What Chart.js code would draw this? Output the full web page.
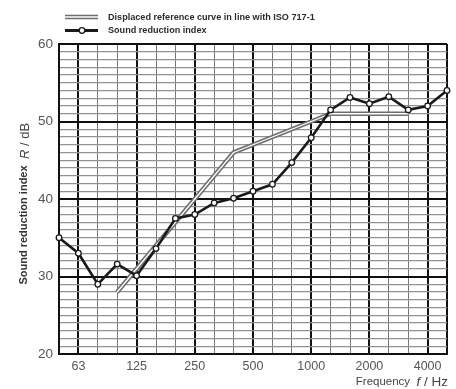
<!DOCTYPE html>
<html>
<head>
<meta charset="utf-8">
<script src="https://cdn.jsdelivr.net/npm/chart.js@4.4.1/dist/chart.umd.min.js"></script>
<style>
html,body{margin:0;padding:0;background:#fff;}
#wrap{position:relative;width:456px;height:389px;}
</style>
</head>
<body>
<div id="wrap"><canvas id="c" width="456" height="389"></canvas></div>
<script>
// One-third octave band centre frequencies (Hz)
const frequencies = ['50','63','80','100','125','160','200','250','315','400','500','630','800','1000','1250','1600','2000','2500','3150','4000','5000'];
// Labels shown on the x axis
const shownTickLabels = ['63','125','250','500','1000','2000','4000'];
// Measured sound reduction index R (dB)
const soundReduction = [35, 33, 29, 31.6, 30.1, 33.6, 37.5, 38, 39.5, 40.1, 41, 41.9, 44.7, 47.9, 51.5, 53.1, 52.3, 53.2, 51.5, 52, 54];
// Displaced reference curve (ISO 717-1), 100 Hz .. 3150 Hz
const referenceCurve = [null, null, null, 28, 31, 34, 37, 40, 43, 46, 47, 48, 49, 50, 51, 51, 51, 51, 51, null, null];
// Y axis range
const yMin = 20, yMax = 60;

const majorX = new Set(['50','63','125','250','500','1000','2000','4000','5000']);
const FONT = "'Liberation Sans', Arial, sans-serif";

const annotations = {
  id: 'annotations',
  afterDraw(chart) {
    const ctx = chart.ctx;
    ctx.save();
    // Legend
    const lx0 = 65, lx1 = 98;
    ctx.lineCap = 'butt';
    ctx.strokeStyle = '#6e6e6e'; ctx.lineWidth = 4.5;
    ctx.beginPath(); ctx.moveTo(lx0, 17); ctx.lineTo(lx1, 17); ctx.stroke();
    ctx.strokeStyle = '#ffffff'; ctx.lineWidth = 1.3;
    ctx.beginPath(); ctx.moveTo(lx0, 17); ctx.lineTo(lx1, 17); ctx.stroke();
    ctx.strokeStyle = '#1a1a1a'; ctx.lineWidth = 3;
    ctx.beginPath(); ctx.moveTo(lx0, 30.5); ctx.lineTo(lx1, 30.5); ctx.stroke();
    ctx.fillStyle = '#fff'; ctx.lineWidth = 1.3;
    ctx.beginPath(); ctx.arc(82, 30.5, 2.8, 0, Math.PI * 2); ctx.fill(); ctx.stroke();
    ctx.fillStyle = '#2a2a2a';
    ctx.font = 'bold 9.1px ' + FONT;
    ctx.textBaseline = 'middle'; ctx.textAlign = 'left';
    ctx.fillText('Displaced reference curve in line with ISO 717-1', 108, 17);
    ctx.fillText('Sound reduction index', 108, 30.5);

    // Y axis title (rotated)
    ctx.save();
    ctx.translate(24, 225);
    ctx.rotate(-Math.PI / 2);
    ctx.textAlign = 'center';
    ctx.fillStyle = '#333';
    ctx.font = 'bold 11px ' + FONT;
    ctx.fillText('Sound reduction index', 0, 0);
    ctx.restore();
    ctx.save();
    ctx.translate(25, 141);
    ctx.rotate(-Math.PI / 2);
    ctx.fillStyle = '#444';
    ctx.textAlign = 'left';
    const p1 = 'italic 13px ' + FONT, p2 = '13px ' + FONT;
    ctx.font = p1; const wR = ctx.measureText('R').width;
    ctx.font = p2; const wRest = ctx.measureText(' / dB').width;
    const start = -(wR + wRest) / 2;
    ctx.font = p1; ctx.fillText('R', start, 0);
    ctx.font = p2; ctx.fillText(' / dB', start + wR, 0);
    ctx.restore();

    // X axis title
    ctx.fillStyle = '#444';
    ctx.textBaseline = 'middle';
    const t1 = 'Frequency  ', t2 = 'f', t3 = ' / Hz';
    const f1 = '11.5px ' + FONT, f2 = 'italic 13.5px ' + FONT, f3 = '13.5px ' + FONT;
    ctx.font = f3; const w3 = ctx.measureText(t3).width;
    ctx.font = f2; const w2 = ctx.measureText(t2).width;
    ctx.font = f1; const w1 = ctx.measureText(t1).width;
    let x = 448 - (w1 + w2 + w3);
    ctx.textAlign = 'left';
    ctx.font = f1; ctx.fillText(t1, x, 382); x += w1;
    ctx.font = f2; ctx.fillText(t2, x, 382); x += w2;
    ctx.font = f3; ctx.fillText(t3, x, 382);
    ctx.restore();
  }
};

new Chart(document.getElementById('c'), {
  type: 'line',
  data: {
    labels: frequencies,
    datasets: [
      {
        label: 'Sound reduction index',
        data: soundReduction,
        borderColor: '#1a1a1a',
        borderWidth: 2.6,
        pointRadius: 2.8,
        pointBackgroundColor: '#ffffff',
        pointBorderColor: '#1a1a1a',
        pointBorderWidth: 1.3,
        tension: 0,
        order: 0
      },
      {
        label: 'ref-inner',
        data: referenceCurve,
        borderColor: '#ffffff',
        borderWidth: 1.3,
        pointRadius: 0,
        spanGaps: false,
        tension: 0,
        order: 1
      },
      {
        label: 'Displaced reference curve in line with ISO 717-1',
        data: referenceCurve,
        borderColor: '#6e6e6e',
        borderWidth: 4.5,
        pointRadius: 0,
        spanGaps: false,
        tension: 0,
        order: 2
      }
    ]
  },
  options: {
    responsive: false,
    animation: false,
    layout: { padding: { left: 0, right: 9, top: 44, bottom: 0 } },
    plugins: { legend: { display: false }, tooltip: { enabled: false } },
    scales: {
      x: {
        type: 'category',
        offset: false,
        afterFit(s) { s.height = 35; },
        grid: {
          offset: false,
          drawTicks: false,
          color: (c) => majorX.has(frequencies[c.index]) ? '#111' : '#777',
          lineWidth: (c) => majorX.has(frequencies[c.index]) ? 2 : 1
        },
        border: { display: true, color: '#111', width: 2 },
        ticks: {
          autoSkip: false,
          maxRotation: 0,
          padding: 5,
          color: '#555',
          font: { family: FONT, size: 12.5 },
          callback: (v, i) => shownTickLabels.includes(frequencies[i]) ? frequencies[i] : ''
        }
      },
      y: {
        min: yMin, max: yMax,
        afterFit(s) { s.width = 59; },
        grid: {
          drawTicks: false,
          color: (c) => c.tick && c.tick.value % 10 === 0 ? '#111' : '#929292',
          lineWidth: (c) => c.tick && c.tick.value % 10 === 0 ? 2 : 1.3
        },
        border: { display: true, color: '#111', width: 2 },
        ticks: {
          stepSize: 1,
          autoSkip: false,
          padding: 6,
          color: '#555',
          font: { family: FONT, size: 13.5 },
          callback: (v) => v % 10 === 0 ? String(v) : ''
        }
      }
    }
  },
  plugins: [annotations]
});
</script>
</body>
</html>
